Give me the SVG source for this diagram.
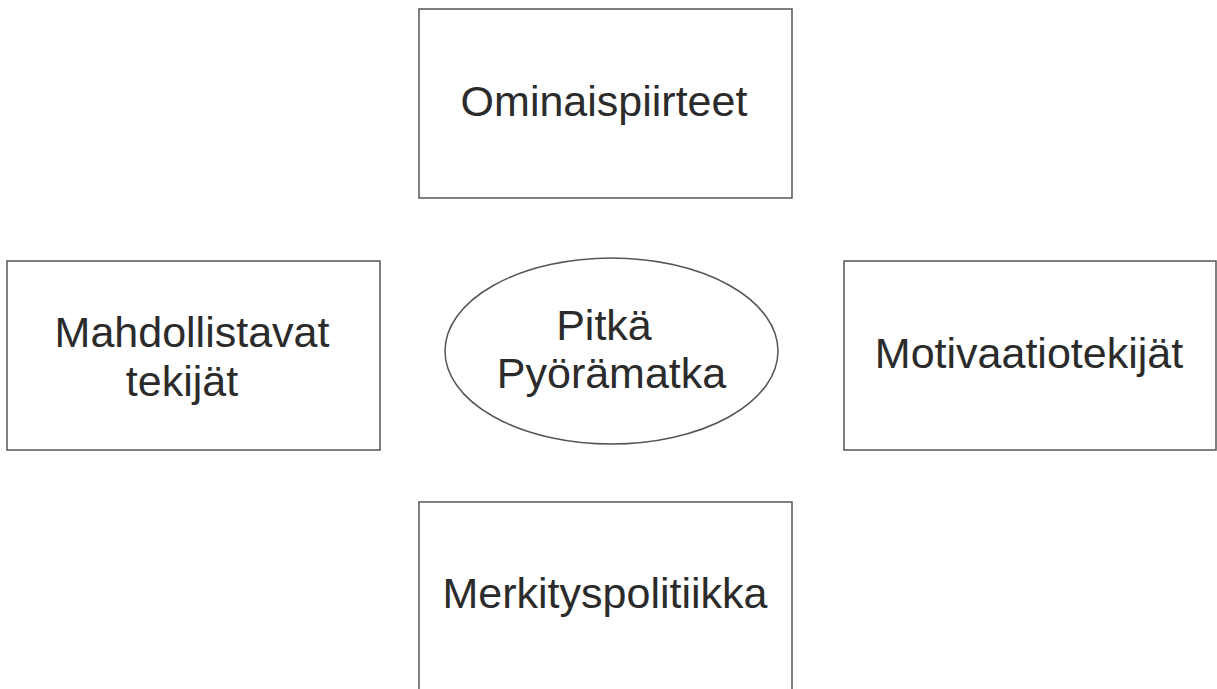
<svg xmlns="http://www.w3.org/2000/svg" width="1217" height="689" viewBox="0 0 1217 689">
<style>
.box{fill:#fff;stroke:#555;stroke-width:1.5}
.lbl{font-family:"Liberation Sans",Arial,sans-serif;font-size:43px;fill:#2b2b2b;text-anchor:middle}
</style>
<rect width="1217" height="689" fill="#fff"/>
<g id="connectors"></g>
<g id="ominaispiirteet">
<rect class="box" x="419" y="9" width="373" height="189"/>
<text class="lbl" x="604" y="116">Ominaispiirteet</text>
</g>
<g id="mahdollistavat">
<rect class="box" x="7" y="261" width="373" height="189"/>
<text class="lbl" x="192" y="347">Mahdollistavat</text>
<text class="lbl" x="182" y="396">tekijät</text>
</g>
<g id="pitka">
<ellipse class="box" cx="611.5" cy="351" rx="166.5" ry="93"/>
<text class="lbl" x="604" y="340">Pitkä</text>
<text class="lbl" x="611.5" y="388">Pyörämatka</text>
</g>
<g id="motivaatio">
<rect class="box" x="844" y="261" width="372" height="189"/>
<text class="lbl" x="1029" y="368">Motivaatiotekijät</text>
</g>
<g id="merkitys">
<rect class="box" x="419" y="502" width="373" height="200"/>
<text class="lbl" x="605" y="608">Merkityspolitiikka</text>
</g>
</svg>
